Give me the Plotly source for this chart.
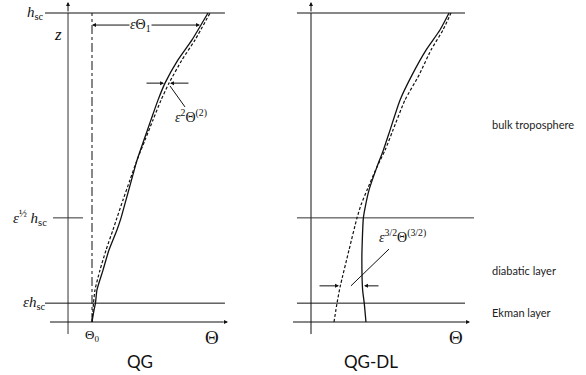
import plotly.graph_objects as go

# ---------------- data (z in units of h_sc, Theta in units of eps*Theta1) ----------------
# Left panel: QG
qg_full_z     = [0, 0.039, 0.061, 0.104, 0.168, 0.233, 0.298, 0.337, 0.395, 0.460, 0.524, 0.589, 0.654, 0.718, 0.773, 0.848, 0.913, 1.0]
qg_full_theta = [0, 0.019, 0.032, 0.046, 0.102, 0.157, 0.231, 0.269, 0.315, 0.366, 0.417, 0.481, 0.546, 0.611, 0.676, 0.796, 0.926, 1.074]
qg_lead_z     = [0, 0.061, 0.104, 0.168, 0.233, 0.298, 0.337, 0.395, 0.460, 0.524, 0.589, 0.654, 0.718, 0.773, 0.848, 0.913, 1.0]
qg_lead_theta = [0, 0.014, 0.028, 0.074, 0.130, 0.194, 0.231, 0.287, 0.352, 0.417, 0.491, 0.565, 0.639, 0.713, 0.833, 0.954, 1.093]

# Right panel: QG-DL
dl_full_z     = [0, 0.061, 0.104, 0.201, 0.265, 0.337, 0.372, 0.427, 0.502, 0.557, 0.621, 0.718, 0.799, 0.880, 0.945, 1.0]
dl_full_theta = [0.296, 0.280, 0.265, 0.258, 0.262, 0.272, 0.289, 0.324, 0.398, 0.458, 0.519, 0.611, 0.722, 0.852, 0.981, 1.065]
dl_lead_z     = [0, 0.061, 0.113, 0.233, 0.337, 0.379, 0.427, 0.502, 0.557, 0.621, 0.718, 0.799, 0.880, 0.945, 1.0]
dl_lead_theta = [0, 0.028, 0.056, 0.139, 0.213, 0.250, 0.306, 0.398, 0.474, 0.546, 0.657, 0.787, 0.898, 1.009, 1.083]

# level heights
z_top = 1.0        # h_sc
z_half = 0.337     # eps^(1/2) h_sc
z_ek = 0.061       # eps h_sc

SERIF = "Liberation Serif"
SANS = "Lato"
BLACK = "#111111"

fig = go.Figure()

def seg(xs, ys, xa="x", dash="solid", width=1.0, color=BLACK, smooth=False):
    line = dict(color=color, width=width, dash=dash)
    if smooth:
        line.update(shape="spline", smoothing=0.6)
    fig.add_trace(go.Scatter(x=xs, y=ys, xaxis=xa, yaxis="y", mode="lines",
                             line=line, hoverinfo="skip", showlegend=False))

def arrow(xa, x0, y0, x1, y1, size=1.0):
    fig.add_annotation(x=x1, y=y1, ax=x0, ay=y0, xref=xa, yref="y", axref=xa, ayref="y",
                       showarrow=True, arrowhead=2, arrowsize=size, arrowwidth=1,
                       arrowcolor=BLACK, text="")

def label(xa, x, y, text, size=13, family=SERIF, xanchor="center", yanchor="middle", bg=None):
    fig.add_annotation(x=x, y=y, xref=xa, yref="y", text=text, showarrow=False,
                       xanchor=xanchor, yanchor=yanchor,
                       font=dict(family=family, size=size, color=BLACK),
                       bgcolor=bg if bg else "rgba(0,0,0,0)", borderpad=0)

# ---------------- left panel ----------------
seg([-0.222, -0.222], [-0.039, 1.0], width=1, color="#333333")
arrow("x", -0.222, 1.0, -0.222, 1.036, size=0.8)
seg([-0.389, 1.22], [0, 0], width=1)
arrow("x", 1.22, 0, 1.259, 0, size=0.8)
seg([-0.435, 1.231], [z_top, z_top])
seg([-0.435, 1.231], [z_ek, z_ek])
seg([-0.361, -0.083], [z_half, z_half], color="#333333")
seg([0, 0], [0, z_top], dash="dashdot", width=1)
seg(qg_full_theta, qg_full_z, width=1.3, smooth=True)
seg(qg_lead_theta, qg_lead_z, dash="3px,2px", width=1.2, smooth=True)
arrow("x", 0.45, 0.961, 0.0, 0.961, size=0.8)
arrow("x", 0.45, 0.961, 1.0, 0.961, size=0.8)
label("x", 0.45, 0.961, "<i>ε</i>Θ<sub>1</sub>", size=14, bg="white")
arrow("x", 0.491, 0.773, 0.667, 0.773, size=0.8)
arrow("x", 0.907, 0.773, 0.722, 0.773, size=0.8)
seg([0.722, 0.861], [0.764, 0.696])
label("x", 0.92, 0.668, "<i>ε</i><sup>2</sup>Θ<sup>(2)</sup>", size=14)
label("x", -0.432, z_top, "<i>h</i><sub>sc</sub>", size=15, xanchor="right")
label("x", -0.315, 0.93, "<i>z</i>", size=17)
label("x", -0.41, z_half, "<i>ε</i><sup>½</sup> <i>h</i><sub>sc</sub>", size=15, xanchor="right")
label("x", -0.415, z_ek, "<i>εh</i><sub>sc</sub>", size=15, xanchor="right")
label("x", 0.0, -0.045, "Θ<sub>0</sub>", size=13)
label("x", 1.111, -0.05, "Θ", size=19)
label("x", 0.444, -0.129, "QG", size=17, family=SANS)

# ---------------- right panel ----------------
seg([-0.213, -0.213], [-0.039, 1.0], xa="x2", width=1)
arrow("x2", -0.213, 1.0, -0.213, 1.036, size=0.8)
seg([-0.389, 1.22], [0, 0], xa="x2", width=1)
arrow("x2", 1.22, 0, 1.259, 0, size=0.8)
seg([-0.343, 1.213], [z_top, z_top], xa="x2")
seg([-0.343, 1.296], [z_half, z_half], xa="x2", color="#333333")
seg([-0.343, 1.213], [z_ek, z_ek], xa="x2")
seg(dl_full_theta, dl_full_z, xa="x2", width=1.3, smooth=True)
seg(dl_lead_theta, dl_lead_z, xa="x2", dash="3px,2px", width=1.2, smooth=True)
arrow("x2", -0.148, 0.117, 0.046, 0.117, size=0.8)
arrow("x2", 0.426, 0.117, 0.278, 0.117, size=0.8)
seg([0.157, 0.509], [0.117, 0.236], xa="x2")
label("x2", 0.63, 0.278, "<i>ε</i><sup>3/2</sup>Θ<sup>(3/2)</sup>", size=14)
label("x2", 1.13, -0.05, "Θ", size=19)
label("x2", 0.343, -0.129, "QG-DL", size=17, family=SANS)

for txt, yy in [("bulk troposphere", 1 - 125 / 375), ("diabatic layer", 1 - 270 / 375), ("Ekman layer", 1 - 312 / 375)]:
    fig.add_annotation(x=490 / 586, y=yy, xref="paper", yref="paper", text=txt, showarrow=False,
                       xanchor="left", yanchor="middle", font=dict(family=SANS, size=11, color="#222222"))

ax_common = dict(visible=False, fixedrange=True, showgrid=False, zeroline=False)
fig.update_layout(
    width=586, height=375, autosize=False,
    margin=dict(l=0, r=0, t=0, b=0, pad=0),
    paper_bgcolor="white", plot_bgcolor="white",
    xaxis=dict(domain=[0, 0.5], range=[-92 / 108, 201 / 108], anchor="y", **ax_common),
    xaxis2=dict(domain=[0.5, 1], range=[(293 - 334) / 108, (586 - 334) / 108], anchor="y", **ax_common),
    yaxis=dict(domain=[0, 1], range=[(322 - 375) / 309, 322 / 309], **ax_common),
    showlegend=False,
)

fig.write_html("out.html", config={"displayModeBar": False},
               post_script="document.body.style.margin='0px';document.body.style.overflow='hidden';")
